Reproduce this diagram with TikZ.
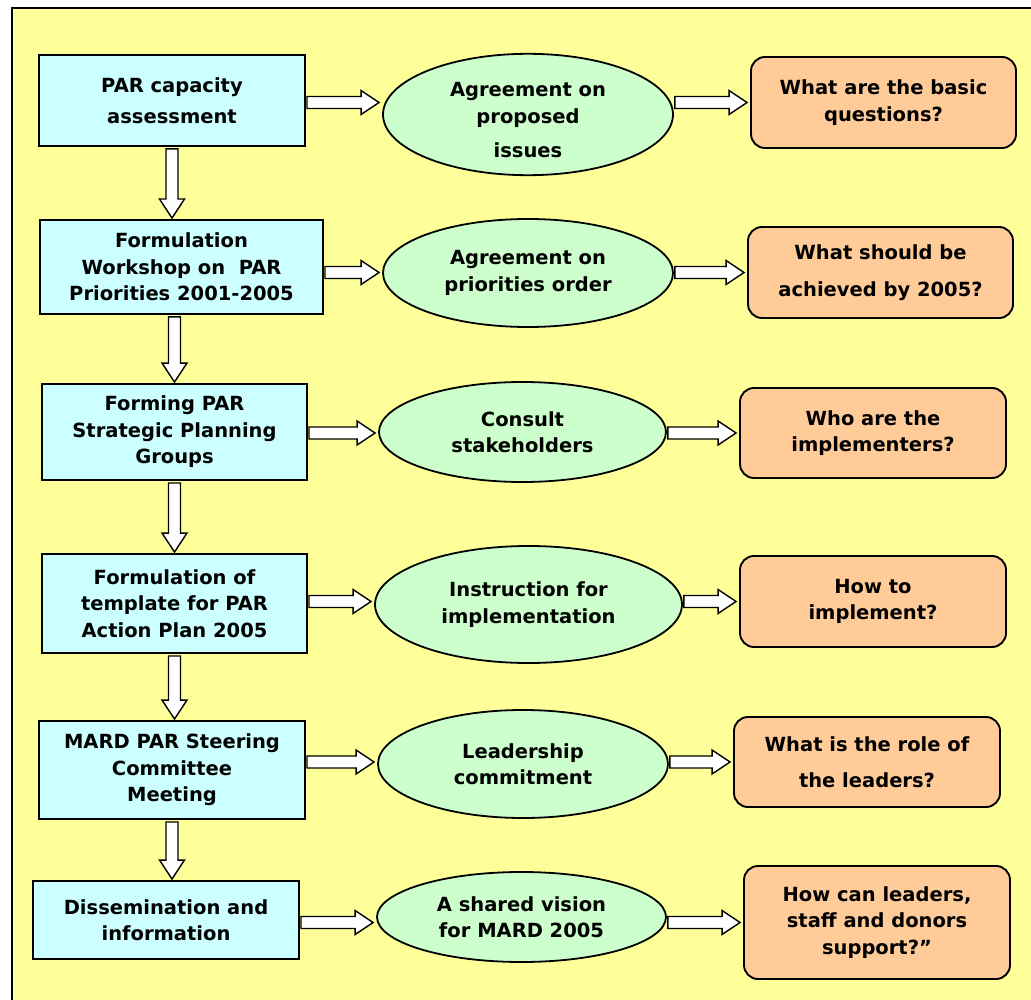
\documentclass[tikz,border=0pt]{standalone}
\usepackage{fontspec}
\setmainfont{DejaVu Sans}
\usetikzlibrary{shapes.geometric,calc}
\definecolor{bgyellow}{HTML}{FFFF99}
\definecolor{boxblue}{HTML}{CCFFFF}
\definecolor{boxgreen}{HTML}{CCFFCC}
\definecolor{boxorange}{HTML}{FFCC99}

\begin{document}
\begin{tikzpicture}[x=1pt,y=-1pt,
  every node/.style={font=\fontsize{19.5}{26.5}\selectfont\bfseries,
    align=center, inner sep=0pt, text=black},
  % process steps (left column)
  stepbox/.style 2 args={rectangle, draw=black, line width=1.9pt, fill=boxblue,
    minimum width=#1pt, minimum height=#2pt},
  % outcomes (middle column)
  ideaell/.style 2 args={ellipse, draw=black, line width=1.8pt, fill=boxgreen,
    minimum width=#1pt, minimum height=#2pt},
  % guiding questions (right column)
  askbox/.style 2 args={rectangle, rounded corners=14pt, draw=black,
    line width=1.9pt, fill=boxorange, minimum width=#1pt, minimum height=#2pt},
  % hollow block arrow pointing right
  harrow/.style={draw=black, fill=white, line width=1.4pt, line join=miter,
    to path={let \p1=(\tikztostart), \p2=(\tikztotarget) in
      (\x1+1pt,\y1+6pt) -- (\x2-21pt,\y1+6pt) -- (\x2-21pt,\y1+12pt)
      -- (\x2-3pt,\y1) -- (\x2-21pt,\y1-12pt) -- (\x2-21pt,\y1-6pt)
      -- (\x1+1pt,\y1-6pt) -- cycle}},
  % hollow block arrow pointing down
  varrow/.style={draw=black, fill=white, line width=1.4pt, line join=miter,
    to path={let \p1=(\tikztostart), \p2=(\tikztotarget) in
      (\x1-6pt,\y1-2pt) -- (\x1-6pt,\y2+20pt) -- (\x1-12.5pt,\y2+20pt)
      -- (\x1,\y2+1pt) -- (\x1+12.5pt,\y2+20pt) -- (\x1+6pt,\y2+20pt)
      -- (\x1+6pt,\y1-2pt) -- cycle}}
]
\useasboundingbox (0,0) rectangle (1031,1000);
\fill[white] (0,0) rectangle (1031,1000);
\clip (0,0) rectangle (1031,1000);

% framed background panel
\draw[line width=2.5pt, fill=bgyellow] (12,8) rectangle (1050,1020);

% left column: process steps
\node[stepbox={266}{91}] (b1) at (172,100.5) {PAR capacity\\[4.5pt]assessment};
\node[stepbox={283}{94}] (b2) at (181.5,267) {Formulation\\Workshop on~~PAR\\Priorities 2001-2005};
\node[stepbox={265}{96}] (b3) at (174.5,432) {Forming PAR\\Strategic Planning\\Groups};
\node[stepbox={265}{99}] (b4) at (174.5,603.5) {Formulation of\\template for PAR\\Action Plan 2005};
\node[stepbox={266}{98}] (b5) at (172,770) {MARD PAR Steering\\Committee\\Meeting};
\node[stepbox={266}{78}] (b6) at (166,920) {Dissemination and\\information};

% middle column: outcomes
\node[ideaell={290}{115}] (e1) at (528,114.5) {\strut\\[-20pt]Agreement on\\proposed\\[7.5pt]issues};
\node[ideaell={290}{108}] (e2) at (528,273) {Agreement on\\priorities order};
\node[ideaell={287}{100}] (e3) at (522.5,432) {Consult\\stakeholders};
\node[ideaell={307}{117}] (e4) at (528.5,604.5) {Instruction for\\implementation};
\node[ideaell={290}{108}] (e5) at (523,764) {Leadership\\commitment};
\node[ideaell={289}{90}] (e6) at (521.5,917) {A shared vision\\for MARD 2005};

% right column: questions
\node[askbox={265}{91}] (o1) at (883.5,102.5) {What are the basic\\questions?};
\node[askbox={265}{91}] (o2) at (880.5,272.5) {What should be\\[10.5pt]achieved by 2005?};
\node[askbox={266}{90}] (o3) at (873,433) {Who are the\\implementers?};
\node[askbox={266}{91}] (o4) at (873,601.5) {How to\\implement?};
\node[askbox={266}{90}] (o5) at (867,762) {What is the role of\\[9.5pt]the leaders?};
\node[askbox={266}{113}] (o6) at (877,922.5) {How can leaders,\\staff and donors\\support?”};

% arrows along each row
\foreach \i in {1,...,6}{
  \draw[harrow] (b\i.east |- o\i.center) to (e\i.west |- o\i.center);
  \draw[harrow] (e\i.east |- o\i.center) to (o\i.west);
}

% arrows down the left column
\draw[varrow] (b1.south) to (b2.north);
\draw[varrow] (b2.south -| b3.north) to (b3.north);
\draw[varrow] (b3.south) to (b4.north);
\draw[varrow] (b4.south) to (b5.north);
\draw[varrow] (b5.south) to (b6.north);
\end{tikzpicture}
\end{document}
